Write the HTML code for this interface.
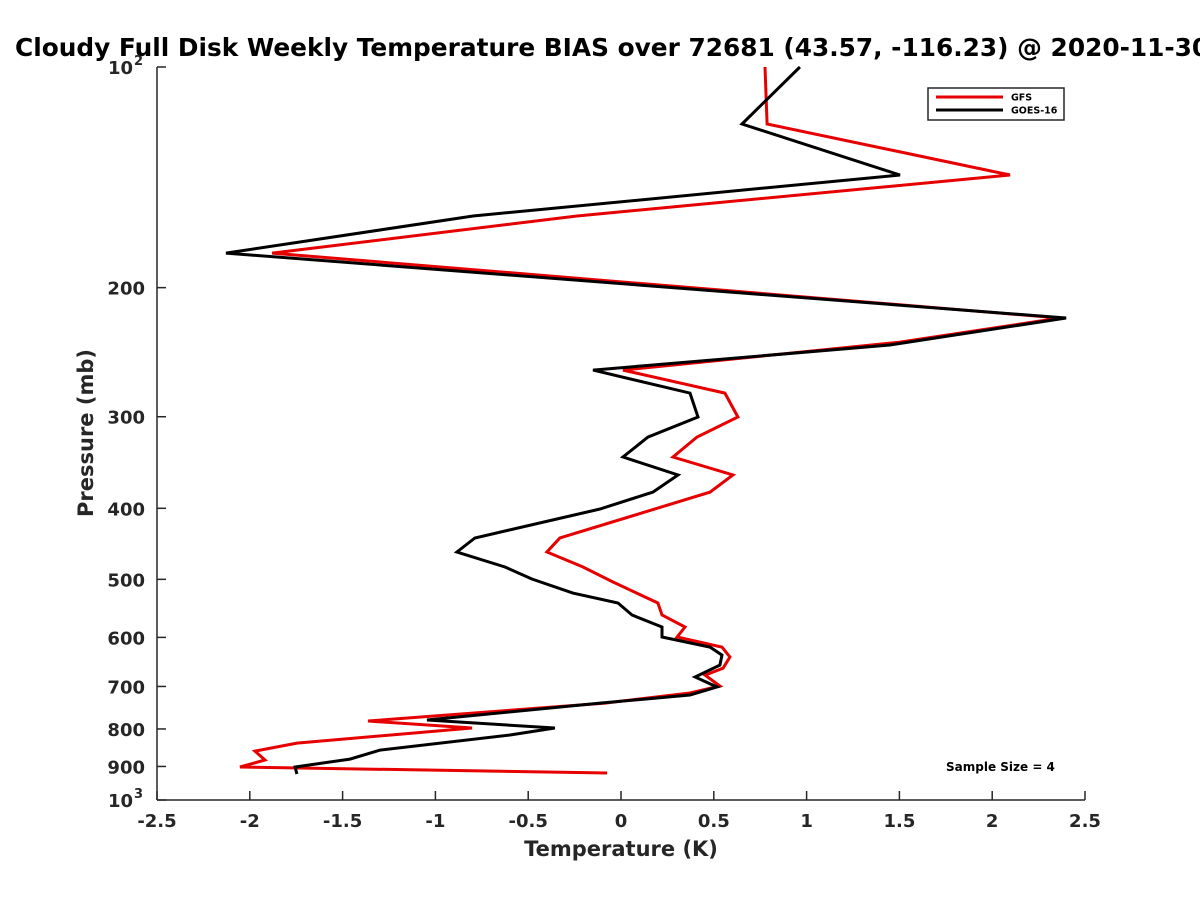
<!DOCTYPE html>
<html><head><meta charset="utf-8"><style>
html,body{margin:0;padding:0;background:#fff;overflow:hidden;}
svg{display:block;font-family:"DejaVu Sans","Liberation Sans",sans-serif;}
</style></head><body>
<svg id="chart" width="1200" height="900" viewBox="0 0 1200 900" xmlns="http://www.w3.org/2000/svg">
<text x="15" y="56" font-size="24.8" font-weight="bold" fill="#000" style="white-space:pre">Cloudy Full Disk Weekly Temperature BIAS over 72681 (43.57, -116.23) @ 2020-11-30</text>
<g id="axes"></g>
<g id="series"></g>
<g>
<rect x="928" y="88" width="136" height="32" fill="#fff" stroke="#262626" stroke-width="1.5"/>
<line x1="936" y1="97" x2="1003" y2="97" stroke="#e60000" stroke-width="3"/>
<text x="1011" y="100.5" font-size="9.5" font-weight="bold">GFS</text>
<line x1="936" y1="110" x2="1003" y2="110" stroke="#000" stroke-width="3"/>
<text x="1011" y="113.5" font-size="9.5" font-weight="bold">GOES-16</text>
</g>
<text x="946" y="771" font-size="12" font-weight="bold">Sample Size = 4</text>
<text x="621" y="856" font-size="21" font-weight="bold" fill="#262626" text-anchor="middle">Temperature (K)</text>
<text transform="translate(93,433) rotate(-90)" font-size="21" font-weight="bold" fill="#262626" text-anchor="middle">Pressure (mb)</text>
</svg>
<script>
const xTicks = [-2.5,-2,-1.5,-1,-0.5,0,0.5,1,1.5,2,2.5];
const xTickLabels = ["-2.5","-2","-1.5","-1","-0.5","0","0.5","1","1.5","2","2.5"];
const yTicks = [100,200,300,400,500,600,700,800,900,1000];
const yTickLabels = ["10^2","200","300","400","500","600","700","800","900","10^3"];
const gfsP = [100,119.6,140.4,159.7,179.4,220,237.3,259.1,278.5,300.3,319.8,340.5,360.3,380.1,439.1,458.9,481,504.2,538.6,559.3,580.8,599.3,618.5,638.2,660.7,675.4,699.1,714.5,737.5,780.3,797.7,836.2,857.5,882,901.6,918.7];
const gfsT = [0.776,0.787,2.096,-0.237,-1.880,2.365,1.503,0.011,0.560,0.630,0.409,0.280,0.603,0.480,-0.329,-0.399,-0.205,-0.043,0.199,0.221,0.345,0.302,0.544,0.587,0.550,0.453,0.533,0.372,-0.086,-1.363,-0.803,-1.746,-1.972,-1.918,-2.053,-0.075];
const goesP = [100,119.6,140.4,159.7,179.4,220,239.5,259.1,278.5,300.3,319.8,340.5,360.3,380.1,400.9,439.1,458.9,481,499.5,522,538.6,559.3,580.8,599.3,618.5,634.3,654.5,679.6,701.2,719.1,737.5,777.9,797.7,815.4,854.8,879.3,901.6,921.5];
const goesT = [0.964,0.652,1.503,-0.797,-2.128,2.398,1.449,-0.151,0.372,0.415,0.145,0.011,0.307,0.172,-0.113,-0.787,-0.884,-0.625,-0.480,-0.259,-0.016,0.059,0.221,0.221,0.480,0.544,0.533,0.399,0.517,0.372,-0.113,-1.045,-0.356,-0.598,-1.298,-1.460,-1.756,-1.746];

const L=157,R=1085,T=67,B=800;
const xs = v => L + (v+2.5)/5*(R-L);
const ys = p => T + (Math.log10(p)-2)*(B-T);
const NS="http://www.w3.org/2000/svg";
const axes=document.getElementById('axes');
const series=document.getElementById('series');
function mk(tag,attrs,parent){const e=document.createElementNS(NS,tag);for(const k in attrs)e.setAttribute(k,attrs[k]);parent.appendChild(e);return e;}

const xAxis=mk('line',{x1:L,y1:B,x2:R,y2:B,stroke:'#262626','stroke-width':1.5},axes);


const yAxis=mk('line',{x1:L,y1:T,x2:L,y2:B,stroke:'#262626','stroke-width':1.5},axes);



xTicks.forEach((v,i)=>{
  const x=xs(v);
  const t=mk('line',{x1:x,y1:B,x2:x,y2:B-9,stroke:'#262626','stroke-width':1.5},axes);
  
  
  const lb=mk('text',{x:x,y:B+27,'font-size':18,'font-weight':'bold',fill:'#262626','text-anchor':'middle'},axes);
  
  
  lb.textContent=xTickLabels[i];
});
yTicks.forEach((p,i)=>{
  const y=ys(p);
  const t=mk('line',{x1:L,y1:y,x2:L+9,y2:y,stroke:'#262626','stroke-width':1.5},axes);
  
  
  const lbl=yTickLabels[i];
  const lb=mk('text',{x:L-12,y:y+7,'font-size':18,'font-weight':'bold',fill:'#262626','text-anchor':'end'},axes);
  
  
  if(lbl.indexOf('^')>=0){
    const parts=lbl.split('^');
    lb.setAttribute('x',L-24);
    lb.textContent=parts[0];
    const sup=mk('text',{x:L-23,y:y-2,'font-size':13,'font-weight':'bold',fill:'#262626'},axes);
    
    
    sup.textContent=parts[1];
  } else lb.textContent=lbl;
});

function drawLine(P,Tv,color,name){
  const pts=P.map((p,i)=>xs(Tv[i]).toFixed(1)+','+ys(p).toFixed(1)).join(' ');
  const pl=mk('polyline',{points:pts,fill:'none',stroke:color,'stroke-width':3,'stroke-linejoin':'miter'},series);
  
  
}
drawLine(gfsP,gfsT,'#e60000','gfs-line');
drawLine(goesP,goesT,'#000000','goes16-line');
</script>
</body></html>
